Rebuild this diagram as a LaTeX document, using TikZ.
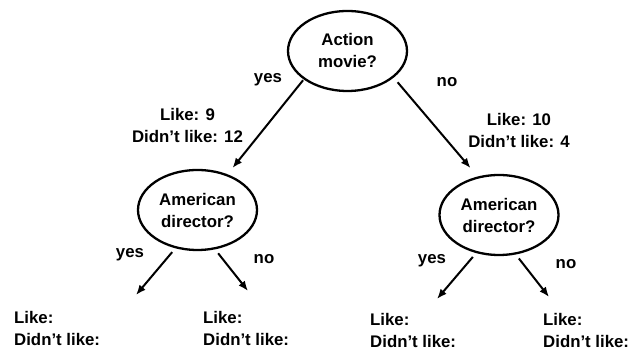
\documentclass[tikz,border=0pt]{standalone}
\usepackage{fontspec}
\setmainfont{Liberation Sans}
\usepackage{tikz}
\usetikzlibrary{arrows.meta,positioning,shapes,calc}

\begin{document}
\begin{tikzpicture}[x = 1pt, y = -1pt,
  every node/.style = {font = \fontsize{16.8}{22}\selectfont\bfseries},
  question/.style = {ellipse, draw, line width = 2.3pt, minimum width = 119pt,
    minimum height = 80pt, inner sep = 0pt, align = center},
  counts/.style = {align = center, inner sep = 0pt},
  leaf/.style = {align = left, anchor = north west, inner sep = 0pt},
  answer/.style = {inner sep = 0pt},
  branch/.style = {-{Latex[length = 10pt, width = 8pt]}, line width = 2pt}]
\useasboundingbox (0, 0) rectangle (632, 352);
\node[question] (act) at (347.5, 51) {Action\\movie?};
\node[question] (dir1) at (197.5, 210) {American\\director?};
\node[question] (dir2) at (499, 215) {American\\director?};
\node[counts] (c1) at (187.5, 125) {Like: 9\\Didn’t like: 12};
\node[counts] (c2) at (519, 130) {Like: 10\\Didn’t like: 4};
\node[answer] (yes0) at (268, 80) {yes};
\node[answer] (no0) at (447, 82) {no};
\node[answer] (yes1) at (130, 255) {yes};
\node[answer] (no1) at (264, 259) {no};
\node[answer] (yes2) at (432, 261) {yes};
\node[answer] (no2) at (566, 264) {no};
\node[leaf] (l1) at (14, 311) {Like:\\Didn’t like:};
\node[leaf] (l2) at (203, 311) {Like:\\Didn’t like:};
\node[leaf] (l3) at (370, 313) {Like:\\Didn’t like:};
\node[leaf] (l4) at (543, 313) {Like:\\Didn’t like:};
\coordinate (t1) at (136, 295);
\coordinate (t2) at (248, 291);
\coordinate (t3) at (437, 299);
\coordinate (t4) at (549, 297);
\draw[branch, shorten <= 1pt, shorten >= 8pt] (act.213) -- (dir1.50);
\draw[branch, shorten <= 6pt, shorten >= 11pt] (act.330) -- (dir2.119);
\draw[branch, shorten <= 5pt] (dir1.240) -- (t1);
\draw[branch, shorten <= 5pt] (dir1.294) -- (t2);
\draw[branch, shorten <= 5pt] (dir2.239) -- (t3);
\draw[branch, shorten <= 5pt] (dir2.293) -- (t4);
\end{tikzpicture}
\end{document}
